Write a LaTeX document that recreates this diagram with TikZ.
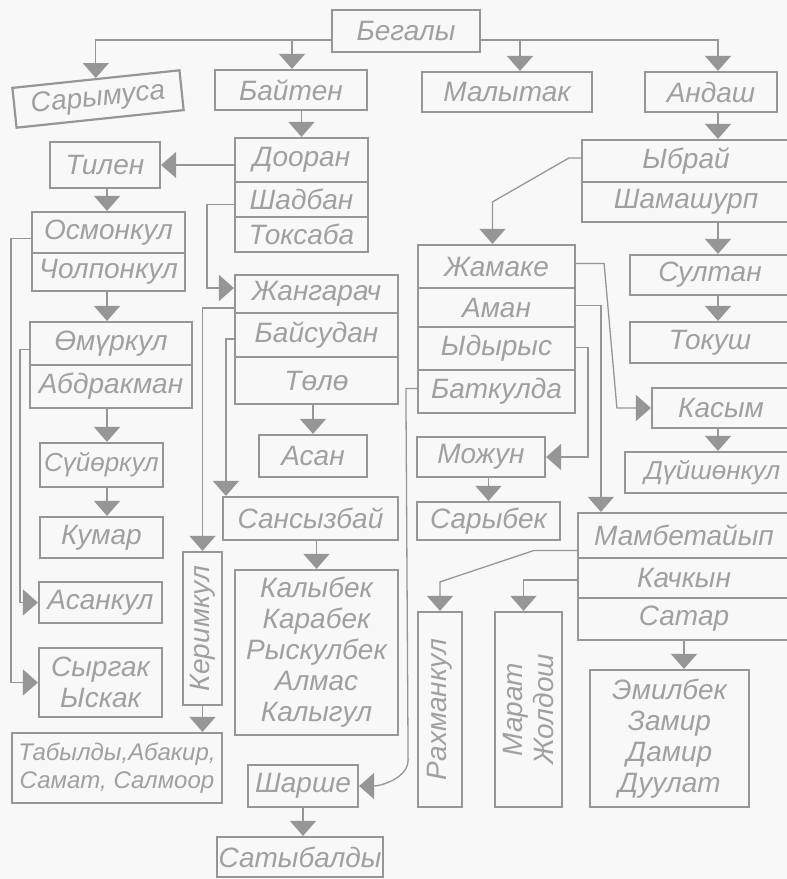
\documentclass[tikz,border=0pt]{standalone}
\usepackage{fontspec}
\setmainfont{Liberation Sans}
\usetikzlibrary{arrows.meta,calc}
\definecolor{ink}{RGB}{150,150,150}
\definecolor{lettr}{RGB}{160,160,160}
\definecolor{paper}{RGB}{248,248,248}

\begin{document}
\begin{tikzpicture}[x=1pt,y=-1pt,
  box/.style={draw=ink,line width=2.2pt,text=lettr,inner sep=1pt,align=center,
    font=\itshape\fontsize{28}{31}\selectfont},
  link/.style={draw=ink,line width=1.3pt},
  arr/.style={link,-{Triangle[width=26pt,length=15pt]}}]
\path[use as bounding box] (0,0) rectangle (787,879);
\clip (0,0) rectangle (787,879);
\fill[paper] (0,0) rectangle (787,879);
\node[box,minimum width=148pt,minimum height=42pt] (begaly) at (406,31) {Бегалы};
\node[box,rotate=6,minimum width=168pt,minimum height=40pt] (sarymusa) at (98,99) {Сарымуса};
\node[box,minimum width=152pt,minimum height=40pt] (bayten) at (291,90) {Байтен};
\node[box,minimum width=170pt,minimum height=40pt] (malytak) at (507,92) {Малытак};
\node[box,minimum width=132pt,minimum height=40pt] (andash) at (711,92) {Андаш};
\node[box,minimum width=133pt,minimum height=44pt] (dooran) at (301.5,160) {Дооран};
\node[box,minimum width=133pt,minimum height=35pt] (shadban) at (301.5,199.5) {Шадбан};
\node[box,minimum width=133pt,minimum height=35pt] (toksaba) at (301.5,234.5) {Токсаба};
\node[box,minimum width=110pt,minimum height=46pt] (tilen) at (105,165) {Тилен};
\node[box,minimum width=153pt,minimum height=41pt] (osmonkul) at (108.5,232.5) {Осмонкул};
\node[box,minimum width=153pt,minimum height=38pt] (cholponkul) at (108.5,272) {Чолпонкул};
\node[box,minimum width=162pt,minimum height=43pt] (omurkul) at (111,343.5) {Өмүркул};
\node[box,minimum width=162pt,minimum height=43pt] (abdrakman) at (111,386.5) {Абдракман};
\node[box,minimum width=123pt,minimum height=44pt,font=\itshape\fontsize{26}{30}\selectfont] (suyorkul) at (101.5,465) {Сүйөркул};
\node[box,minimum width=123pt,minimum height=41pt] (kumar) at (101.5,537.5) {Кумар};
\node[box,minimum width=123pt,minimum height=41pt] (asankul) at (100.5,602.5) {Асанкул};
\node[box,minimum width=123pt,minimum height=69pt] (syrgak) at (100.5,682.5) {Сыргак\\Ыскак};
\node[box,minimum width=210pt,minimum height=70pt,font=\itshape\fontsize{24}{28}\selectfont] (tabyldy) at (117,768) {Табылды,Абакир,\\Самат, Салмоор};
\node[box,rotate=90,minimum width=153pt,minimum height=39pt] (kerim) at (202.5,628.5) {Керимкул};
\node[box,minimum width=163pt,minimum height=38pt] (jangarach) at (316.5,294) {Жангарач};
\node[box,minimum width=163pt,minimum height=44pt] (baysudan) at (316.5,335) {Байсудан};
\node[box,minimum width=163pt,minimum height=47pt] (tolo) at (316.5,380.5) {Төлө};
\node[box,minimum width=108pt,minimum height=42pt] (asan) at (313,456) {Асан};
\node[box,minimum width=175pt,minimum height=43pt] (sansyzbay) at (310.5,518.5) {Сансызбай};
\node[box,minimum width=163pt,minimum height=165pt] (kalybek) at (316.5,652.5) {Калыбек\\Карабек\\Рыскулбек\\Алмас\\Калыгул};
\node[box,minimum width=110pt,minimum height=42pt] (sharshe) at (303,786) {Шарше};
\node[box,minimum width=166pt,minimum height=40pt] (satybaldy) at (300,857) {Сатыбалды};
\node[box,minimum width=208pt,minimum height=42pt] (ybray) at (686,161) {Ыбрай};
\node[box,minimum width=208pt,minimum height=40pt] (shamashurp) at (686,202) {Шамашурп};
\node[box,minimum width=160pt,minimum height=40pt] (sultan) at (710,275) {Султан};
\node[box,minimum width=160pt,minimum height=41pt] (tokush) at (710,342.5) {Токуш};
\node[box,minimum width=138pt,minimum height=40pt] (kasym) at (721,408) {Касым};
\node[box,minimum width=175pt,minimum height=41pt,font=\itshape\fontsize{26}{30}\selectfont] (duyshonkul) at (712.5,472.5) {Дүйшөнкул};
\node[box,minimum width=157pt,minimum height=43pt] (jamake) at (496.5,266.5) {Жамаке};
\node[box,minimum width=157pt,minimum height=39pt] (aman) at (496.5,307.5) {Аман};
\node[box,minimum width=157pt,minimum height=43pt] (ydyrys) at (496.5,348.5) {Ыдырыс};
\node[box,minimum width=157pt,minimum height=43pt] (batkulda) at (496.5,391.5) {Баткулда};
\node[box,minimum width=128pt,minimum height=40pt] (mojun) at (481,457) {Можун};
\node[box,minimum width=143pt,minimum height=38pt] (sarybek) at (488.5,521) {Сарыбек};
\node[box,minimum width=212pt,minimum height=45pt] (mambet) at (684,535.5) {Мамбетайып};
\node[box,minimum width=212pt,minimum height=40pt] (kachkyn) at (684,578) {Качкын};
\node[box,minimum width=212pt,minimum height=42pt] (satar) at (684,619) {Сатар};
\node[box,rotate=90,minimum width=195pt,minimum height=44pt] (rahman) at (440,709.5) {Рахманкул};
\node[box,rotate=90,minimum width=195pt,minimum height=67pt] (marat) at (528.5,709.5) {Марат\\Жолдош};
\node[box,minimum width=159pt,minimum height=137pt] (emilbek) at (669.5,738.5) {Эмилбек\\Замир\\Дамир\\Дуулат};
\coordinate (dropA) at (718,40);
\coordinate (dropB) at (292,40);
\coordinate (dropM) at (520,40);
\coordinate (colL) at (107,0);
\draw[arr] ([yshift=-9pt]begaly.west) -| (sarymusa.north);
\draw[arr] ([yshift=-9pt]begaly.east) -- (dropA) -- (dropA |- andash.north);
\draw[arr] (dropB) -- (dropB |- bayten.north);
\draw[arr] (dropM) -- (dropM |- malytak.north);
\draw[arr] (dropA |- andash.south) -- (dropA |- ybray.north);
\draw[arr] (dropA |- shamashurp.south) -- (dropA |- sultan.north);
\draw[arr] (dropA |- sultan.south) -- (dropA |- tokush.north);
\draw[arr] (dropA |- kasym.south) -- (dropA |- duyshonkul.north);
\draw[arr] (dooran.north |- bayten.south) -- (dooran.north);
\draw[arr] (dooran.west |- tilen.east) -- (tilen.east);
\draw[arr] (colL |- tilen.south) -- (colL |- osmonkul.north);
\draw[arr] (colL |- cholponkul.south) -- (colL |- omurkul.north);
\draw[arr] (colL |- abdrakman.south) -- (colL |- suyorkul.north);
\draw[arr] (colL |- suyorkul.south) -- (colL |- kumar.north);
\draw[arr] ([yshift=-6pt]osmonkul.west) -- ++(-20,0) |- (syrgak.west);
\draw[arr] ([yshift=-6pt]omurkul.west) -- ++(-9,0) |- (asankul.west);
\draw[arr] ([yshift=-5pt]shadban.west) -- ++(-27,0) |- ([yshift=6pt]jangarach.west);
\draw[arr] ([yshift=-14pt]jangarach.west) -| (kerim.east);
\draw[arr] ([yshift=-4pt]baysudan.west) -| ([xshift=4pt]sansyzbay.north west);
\draw[arr] (asan.north |- tolo.south) -- (asan.north);
\draw[arr] (kalybek.north |- sansyzbay.south) -- (kalybek.north);
\draw[arr] (kerim.west) -- (kerim.west |- tabyldy.north);
\draw[arr] (sharshe.south) -- (sharshe.south |- satybaldy.north);
\draw[arr] ([yshift=3pt]batkulda.west) -- ++(-11,0) -- ($(sharshe.east)+(49,-26)$) .. controls +(0,18) and +(22,0) .. (sharshe.east);
\draw[arr] ([yshift=3pt]ybray.west) -- ++(-12,0) -- ($(jamake.north)+(-4,-42)$) -- ([xshift=-4pt]jamake.north);
\draw[arr] ([yshift=3pt]jamake.east) -- ++(28,0) -- ($(kasym.west)+(-34,0)$) -- (kasym.west);
\draw[arr] ([yshift=2pt]aman.east) -| ([xshift=24pt]mambet.north west);
\draw[arr] ([yshift=1pt]ydyrys.east) -- ++(12,0) |- (mojun.east);
\draw[arr] (sarybek.north |- mojun.south) -- (sarybek.north);
\draw[arr] ([yshift=-15pt]mambet.west) -- ++(-43,0) -- ($(rahman.east)+(0,-29)$) -- (rahman.east);
\draw[arr] ([yshift=-2pt]kachkyn.west) -| ([xshift=-5pt]marat.east);
\draw[arr] (satar.south) -- (satar.south |- emilbek.north);
\end{tikzpicture}
\end{document}
